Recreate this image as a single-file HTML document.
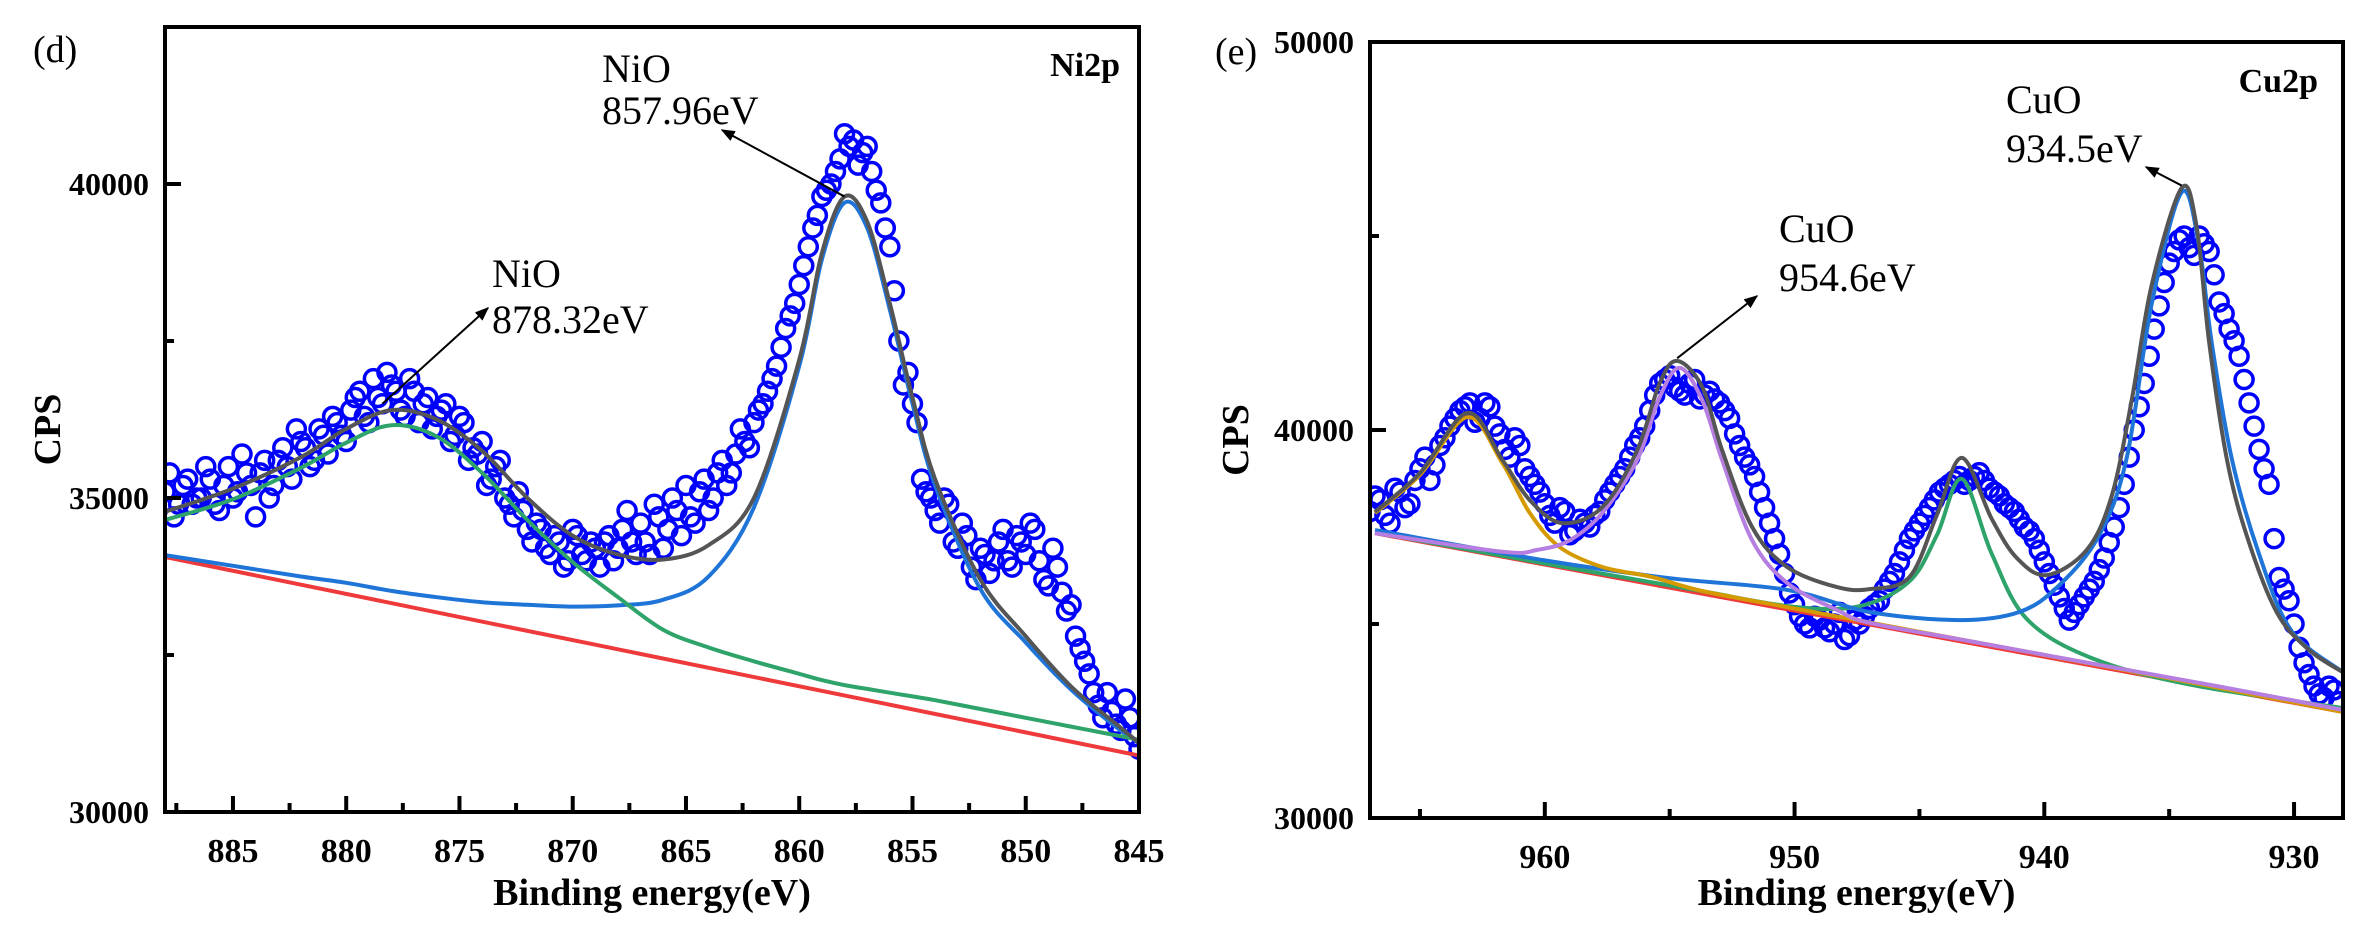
<!DOCTYPE html>
<html><head><meta charset="utf-8">
<style>
html,body{margin:0;padding:0;background:#fff;}
svg{display:block;font-family:"Liberation Serif",serif;}
</style></head>
<body>
<svg id="chart" width="2368" height="931" viewBox="0 0 2368 931" xmlns="http://www.w3.org/2000/svg">
<defs>
<clipPath id="clipL"><rect x="165" y="27" width="974" height="785"/></clipPath>
<clipPath id="clipR"><rect x="1370" y="42" width="973" height="776"/></clipPath>
<marker id="arrow" viewBox="0 0 10 10" refX="9" refY="5" markerWidth="7" markerHeight="7" orient="auto"><path d="M0,1 L10,5 L0,9 z" fill="#000"/></marker>
</defs>
<g id="panelL"></g>
<g id="panelR"></g>
</svg>
<script>
// ---------- Ni2p data ----------
const niEnergy=[888.0,887.6,887.2,886.8,886.4,886.0,885.6,885.2,884.8,884.4,884.0,883.6,883.2,882.8,882.4,882.0,881.6,881.2,880.8,880.4,880.0,879.6,879.2,878.8,878.4,878.0,877.6,877.2,876.8,876.4,876.0,875.6,875.2,874.8,874.4,874.0,873.6,873.2,872.8,872.4,872.0,871.6,871.2,870.8,870.4,870.0,869.6,869.2,868.8,868.4,868.0,867.6,867.2,866.8,866.4,866.0,865.6,865.2,864.8,864.4,864.0,863.6,863.2,862.8,862.4,862.0,861.6,861.2,860.8,860.4,860.0,859.6,859.2,858.8,858.4,858.0,857.6,857.2,856.8,856.4,856.0,855.6,855.2,854.8,854.4,854.0,853.6,853.2,852.8,852.4,852.0,851.6,851.2,850.8,850.4,850.0,849.6,849.2,848.8,848.4,848.0,847.6,847.2,846.8,846.4,846.0,845.6,845.2,845.0];
const niCps=[35100,34700,35200,34900,35000,35300,34800,35500,35100,35400,34700,35600,35200,35800,35300,35900,35500,36100,35700,36200,35900,36600,36300,36900,36500,36800,36400,36900,36200,36600,36300,36500,36000,36200,35800,35900,35300,35600,34900,35100,34500,34600,34200,34400,33900,34500,34100,34300,33900,34400,34200,34800,34100,34300,34900,34200,35000,34400,34700,35100,34800,35400,35200,35700,35900,36200,36500,36900,37400,37900,38400,39000,39500,39900,40200,40800,40700,40500,40200,39700,39000,37500,37000,36200,35100,34800,35000,34300,34600,33900,34200,33800,34300,34000,34400,34100,34500,33700,34200,33500,33300,32600,32200,31700,31900,31400,31800,31200,31000];
const niEnergy2=[887.8,887.4,887.0,886.6,886.2,885.8,885.4,885.0,884.6,884.2,883.8,883.4,883.0,882.6,882.2,881.8,881.4,881.0,880.6,880.2,879.8,879.4,879.0,878.6,878.2,877.8,877.4,877.0,876.6,876.2,875.8,875.4,875.0,874.6,874.2,873.8,873.4,873.0,872.6,872.2,871.8,871.4,871.0,870.6,870.2,869.8,869.4,869.0,868.6,868.2,867.8,867.4,867.0,866.6,866.2,865.8,865.4,865.0,864.6,864.2,863.8,863.4,863.0,862.6,862.2,861.8,861.4,861.0,860.6,860.2,859.8,859.4,859.0,858.6,858.2,857.8,857.4,857.0,856.6,856.2,855.8,855.4,855.0,854.6,854.2,853.8,853.4,853.0,852.6,852.2,851.8,851.4,851.0,850.6,850.2,849.8,849.4,849.0,848.6,848.2,847.8,847.4,847.0,846.6,846.2,845.8,845.4];
const niCps2=[35400,34900,35300,35000,35500,34900,35200,35000,35700,35200,35400,35000,35600,35500,36100,35800,35600,36000,36300,36000,36400,36700,36200,36600,37000,36700,36300,36700,36500,36100,36400,35900,36300,35600,35700,35200,35500,35000,34700,34800,34300,34500,34100,34300,34000,34400,34000,34200,34300,34000,34500,34300,34600,34100,34700,34500,34800,35200,34600,35300,35000,35600,35400,36100,35800,36400,36700,37100,37700,38100,38700,39300,39800,40000,40400,40600,40300,40600,39900,39300,38300,36800,36500,35300,35000,34600,34900,34200,34400,33700,34100,34000,34500,33900,34300,34600,34000,33600,33900,33200,32800,32400,31900,31500,31600,31300,31500];
const niFitE=[888,885,882,880,878,876,874,872,870,868,866,864,862,860,859,858,857,856,855,854,852,850,848,846,845];
const niEnvelope=[34780,35150,35650,36100,36400,36250,35750,35000,34400,34100,34020,34250,35000,37200,38900,39800,39400,38100,36600,35300,33700,32800,32000,31400,31100];
const niPeak858=[34090,33920,33750,33650,33520,33420,33340,33300,33270,33290,33380,33750,34850,37100,38800,39700,39300,38000,36500,35200,33550,32700,31950,31350,31100];
const niPeak878=[34650,34980,35480,35880,36160,35980,35400,34650,33980,33420,32900,32620,32400,32200,32100,32020,31960,31900,31840,31780,31640,31500,31360,31220,31150];
const niBgE=[888,845];
const niBg=[34060,30900];
const niXTicks=[885,880,875,870,865,860,855,850,845];
const niYTicks=[30000,35000,40000];

// ---------- Cu2p data ----------
const cuEnergy=[967.0,966.6,966.2,965.8,965.4,965.0,964.6,964.2,963.8,963.4,963.0,962.6,962.2,961.8,961.4,961.0,960.6,960.2,959.8,959.4,959.0,958.6,958.2,957.8,957.4,957.0,956.6,956.2,955.8,955.4,955.0,954.6,954.2,953.8,953.4,953.0,952.6,952.2,951.8,951.4,951.0,950.6,950.2,949.8,949.4,949.0,948.6,948.2,947.8,947.4,947.0,946.6,946.2,945.8,945.4,945.0,944.6,944.2,943.8,943.4,943.0,942.6,942.2,941.8,941.4,941.0,940.6,940.2,939.8,939.4,939.0,938.6,938.2,937.8,937.4,937.0,936.6,936.2,935.8,935.4,935.0,934.6,934.2,933.8,933.4,933.0,932.6,932.2,931.8,931.4,931.0,930.6,930.2,929.8,929.4,929.0,928.6,928.2];
const cuCps=[37900,38200,37600,38400,38100,39000,38700,39600,40100,40500,40700,40300,40600,39900,39300,39600,38800,38400,37800,38000,37300,37700,37500,37900,38400,38800,39300,39800,40500,41200,41400,41000,41200,40800,41000,40700,40300,39600,39100,38400,37600,36800,35800,35200,34900,35100,34800,35300,34700,35000,35400,35600,36100,36600,37200,37600,38000,38400,38600,38800,38700,38900,38500,38300,38000,37700,37400,36900,36300,35700,35100,35500,35900,36400,37100,38000,39300,40600,41900,43200,44300,44900,44700,45000,44600,43300,42600,41900,40700,39500,38600,36200,35600,34400,33700,33200,33400,33000];
const cuEnergy2=[966.8,966.4,966.0,965.6,965.2,964.8,964.4,964.0,963.6,963.2,962.8,962.4,962.0,961.6,961.2,960.8,960.4,960.0,959.6,959.2,958.8,958.4,958.0,957.6,957.2,956.8,956.4,956.0,955.6,955.2,954.8,954.4,954.0,953.6,953.2,952.8,952.4,952.0,951.6,951.2,950.8,950.4,950.0,949.6,949.2,948.8,948.4,948.0,947.6,947.2,946.8,946.4,946.0,945.6,945.2,944.8,944.4,944.0,943.6,943.2,942.8,942.4,942.0,941.6,941.2,940.8,940.4,940.0,939.6,939.2,938.8,938.4,938.0,937.6,937.2,936.8,936.4,936.0,935.6,935.2,934.8,934.4,934.0,933.6,933.2,932.8,932.4,932.0,931.6,931.2,930.8,930.4,930.0,929.6,929.2,928.8,928.4];
const cuCps2=[38300,37800,38500,38000,38700,39300,39100,39800,40300,40600,40200,40700,40100,39500,39800,39000,38600,38100,37600,37900,37400,37600,37800,38200,38600,39000,39600,40100,40900,41300,41100,40900,41300,40900,40800,40500,39900,39300,38800,38000,37200,36300,35500,35000,35200,34900,35000,34600,35100,35200,35500,35900,36300,36900,37400,37800,38200,38500,38700,38600,38800,38700,38400,38100,37900,37500,37200,36600,36000,35400,35300,35700,36100,36700,37500,38600,40000,41200,42600,43800,44600,45000,44500,44800,44000,43000,42300,41300,40100,39000,37200,35900,35000,34000,33400,33100,33300];
const cuEnvE=[966.8,965.0,963.1,961.7,960.6,959.3,957.7,956.3,955.4,954.7,953.7,952.9,951.7,950.3,948.3,947.0,945.4,944.3,943.3,942.1,941.1,939.9,938.3,937.3,936.5,935.7,934.5,933.9,933.4,932.7,931.9,930.7,929.4,928.0];
const cuEnvelope=[37890,38890,40440,39230,38190,37600,38010,39480,41210,41780,41110,39480,37500,36470,35950,35900,36210,37810,39280,37700,36700,36260,36910,38300,40770,43740,46240,45230,42270,39280,37290,35310,34330,33740];
const cuPeak934E=[966.8,960,955,950.3,947.0,943.4,941.0,939.4,937.8,936.7,935.7,934.5,933.8,933.3,932.5,931.4,930.1,928.0];
const cuPeak934=[37420,36640,36180,35880,35310,35100,35310,36000,37290,39280,43250,46130,44740,42270,39280,36800,34820,33740];
const cuPeak943E=[966.8,960,954,950,947.4,945.4,944.3,943.3,942.1,940.7,938.1,934.1,928.0];
const cuPeak943=[37360,36560,35880,35440,35460,36100,37290,38740,36800,35130,34120,33430,32830];
const cuPeak954E=[966.8,961.7,960.3,959.0,957.7,956.3,955.4,954.6,953.7,952.9,951.7,950.3,948.3,947.0,943,938,933,928.0];
const cuPeak954=[37340,36860,36910,37160,37860,39230,40850,41600,40770,39230,37160,36060,35360,35030,34560,33970,33390,32780];
const cuPeak963E=[966.8,965.0,963.1,961.7,960.6,959.4,957.7,955.7,953.7,950,945,940,935,928.0];
const cuPeak963=[37860,38840,40330,39150,37860,36980,36470,36210,35850,35400,34800,34200,33600,32730];
const cuBgE=[966.8,928.0];
const cuBg=[37340,32730];
const cuXTicks=[960,950,940,930];
const cuYTicks=[30000,40000,50000];

const NS="http://www.w3.org/2000/svg";
function mk(tag,attrs,parent){const e=document.createElementNS(NS,tag);for(const k in attrs)e.setAttribute(k,attrs[k]);if(parent)parent.appendChild(e);return e;}
function smooth(pts){
  if(pts.length<3)return "M"+pts.map(p=>p[0].toFixed(1)+","+p[1].toFixed(1)).join(" L");
  let d="M"+pts[0][0].toFixed(1)+","+pts[0][1].toFixed(1);
  for(let i=0;i<pts.length-1;i++){
    const p0=pts[Math.max(0,i-1)],p1=pts[i],p2=pts[i+1],p3=pts[Math.min(pts.length-1,i+2)];
    const c1=[p1[0]+(p2[0]-p0[0])/6,p1[1]+(p2[1]-p0[1])/6];
    const c2=[p2[0]-(p3[0]-p1[0])/6,p2[1]-(p3[1]-p1[1])/6];
    d+=" C"+c1[0].toFixed(1)+","+c1[1].toFixed(1)+" "+c2[0].toFixed(1)+","+c2[1].toFixed(1)+" "+p2[0].toFixed(1)+","+p2[1].toFixed(1);
  }
  return d;
}
function text(g,x,y,s,size,weight,anchor,name){
  const t=mk("text",{x:x,y:y,"font-size":size,"font-weight":weight||"normal","text-anchor":anchor||"start",fill:"#000"},g);
  
  
  t.textContent=s;return t;
}

function panel(cfg){
  const g=document.getElementById(cfg.id);
  const L=cfg.left,R=cfg.right,T=cfg.top,B=cfg.bottom;
  const X=e=>L+(cfg.xmax-e)/(cfg.xmax-cfg.xmin)*(R-L);
  const Y=v=>B-(v-cfg.ymin)/(cfg.ymax-cfg.ymin)*(B-T);
  const plot=mk("g",{"clip-path":"url(#"+cfg.clip+")"},g);
  
  
  cfg.curves.forEach(c=>{
    const pts=c.e.map((e,i)=>[X(e),Y(c.v[i])]);
    const p=mk("path",{d:smooth(pts),fill:"none",stroke:c.color,"stroke-width":4,"stroke-linejoin":"round"},null);
    
    
    c.el=p;
  });
  const sg=mk("g",{},plot);
  
  
  cfg.sets.forEach(s=>{
    s.x.forEach((e,i)=>{
      const c=mk("circle",{cx:X(e),cy:Y(s.y[i]),r:9,fill:"none",stroke:"#0000ff","stroke-width":3.5},sg);
      
      
    });
  });
  cfg.curves.forEach(c=>plot.appendChild(c.el));
  const fr=mk("rect",{x:L,y:T,width:R-L,height:B-T,fill:"none",stroke:"#000","stroke-width":4},g);
  
  
  cfg.xticks.forEach(t=>{
    const x=X(t);
    const l=mk("line",{x1:x,y1:B,x2:x,y2:B-16,stroke:"#000","stroke-width":4},g);
    
    
    text(g,x,B+50,String(t),34,"bold","middle",cfg.prefix+'-x-tick-label');
    const m=t+cfg.xstep/2;
    if(m<cfg.xmax){const xm=X(m);const ml=mk("line",{x1:xm,y1:B,x2:xm,y2:B-9,stroke:"#000","stroke-width":4},g);
      }
  });
  cfg.yticks.forEach(t=>{
    const y=Y(t);
    const l=mk("line",{x1:L,y1:y,x2:L+16,y2:y,stroke:"#000","stroke-width":4},g);
    
    
    text(g,L-16,y+11,String(t),32,"bold","end",cfg.prefix+'-y-tick-label');
    const m=t+cfg.ystep/2;
    if(m<cfg.ymax){const ym=Y(m);const ml=mk("line",{x1:L,y1:ym,x2:L+9,y2:ym,stroke:"#000","stroke-width":4},g);
      }
  });
  text(g,(L+R)/2,905,"Binding energy(eV)",38,"bold","middle",cfg.prefix+'-x-axis-title');
  const yt=text(g,0,0,"CPS",38,"bold","middle",cfg.prefix+'-y-axis-title');
  yt.setAttribute("transform","translate("+cfg.cpsx+","+((T+B)/2+10)+") rotate(-90)");
  return {X,Y,g};
}

const left=panel({id:"panelL",prefix:"ni2p",clip:"clipL",left:165,right:1139,top:27,bottom:812,xmax:888,xmin:845,ymin:30000,ymax:42500,xstep:5,ystep:5000,
  xticks:niXTicks,yticks:niYTicks,sets:[{x:niEnergy,y:niCps},{x:niEnergy2,y:niCps2}],cpsx:60,
  curves:[{name:"background-line",e:niBgE,v:niBg,color:"#ee3a3a"},
          {name:"nio-858-fit",e:niFitE,v:niPeak858,color:"#1f74d8"},
          {name:"nio-878-fit",e:niFitE,v:niPeak878,color:"#2ea36a"},
          {name:"envelope-fit",e:niFitE,v:niEnvelope,color:"#555555"}]});
const right=panel({id:"panelR",prefix:"cu2p",clip:"clipR",left:1370,right:2343,top:42,bottom:818,xmax:967,xmin:928.04,ymin:30000,ymax:50000,xstep:10,ystep:10000,
  xticks:cuXTicks,yticks:cuYTicks,sets:[{x:cuEnergy,y:cuCps},{x:cuEnergy2,y:cuCps2}],cpsx:1248,
  curves:[{name:"background-line",e:cuBgE,v:cuBg,color:"#ee3a3a"},
          {name:"cuo-943-fit",e:cuPeak943E,v:cuPeak943,color:"#2ea36a"},
          {name:"cuo-934-fit",e:cuPeak934E,v:cuPeak934,color:"#1f74d8"},
          {name:"cuo-963-fit",e:cuPeak963E,v:cuPeak963,color:"#d49a00"},
          {name:"cuo-954-fit",e:cuPeak954E,v:cuPeak954,color:"#b57ee0"},
          {name:"envelope-fit",e:cuEnvE,v:cuEnvelope,color:"#555555"}]});

function arrow(g,x1,y1,x2,y2,name){
  const l=mk("line",{x1:x1,y1:y1,x2:x2,y2:y2,stroke:"#000","stroke-width":2,"marker-end":"url(#arrow)"},g);
  
  
}
const gl=left.g, gr=right.g;
text(gl,33,62,"(d)",38,"normal","start","ni2p-panel-label");
text(gl,1120,76,"Ni2p",34,"bold","end","ni2p-title");
text(gl,602,82,"NiO",40,"normal","start","nio-858-label");
text(gl,602,124,"857.96eV",40,"normal","start","nio-858-energy");
arrow(gl,left.X(858),left.Y(39800),722,130,"nio-858-arrow");
text(gl,492,287,"NiO",40,"normal","start","nio-878-label");
text(gl,492,333,"878.32eV",40,"normal","start","nio-878-energy");
arrow(gl,left.X(878.4),left.Y(36500),488,308,"nio-878-arrow");

text(gr,1215,64,"(e)",38,"normal","start","cu2p-panel-label");
text(gr,2318,92,"Cu2p",34,"bold","end","cu2p-title");
text(gr,2006,113,"CuO",40,"normal","start","cuo-934-label");
text(gr,2006,162,"934.5eV",40,"normal","start","cuo-934-energy");
arrow(gr,right.X(934.5),right.Y(46300),2146,167,"cuo-934-arrow");
text(gr,1779,242,"CuO",40,"normal","start","cuo-954-label");
text(gr,1779,291,"954.6eV",40,"normal","start","cuo-954-energy");
arrow(gr,right.X(954.7),right.Y(41850),1757,296,"cuo-954-arrow");
</script>
</body></html>
